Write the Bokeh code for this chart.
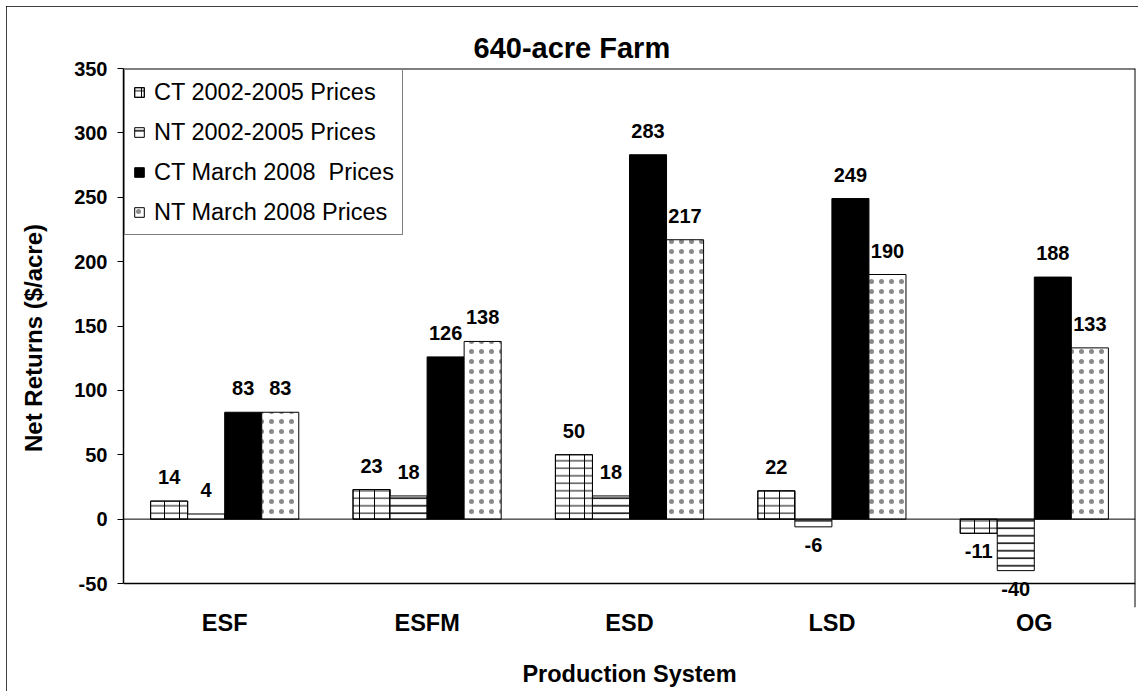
from bokeh.plotting import figure
from bokeh.models import (ColumnDataSource, FactorRange, Range1d, Span, Legend,
                          LegendItem, FixedTicker, LabelSet, PrintfTickFormatter)
from bokeh.transform import dodge
from bokeh.core.properties import value
from bokeh.embed import file_html
from bokeh.resources import INLINE

# ---------------- data ----------------
categories = ["ESF", "ESFM", "ESD", "LSD", "OG"]
ct_2002 = [14, 23, 50, 22, -11]
nt_2002 = [4, 18, 18, -6, -40]
ct_2008 = [83, 126, 283, 249, 188]
nt_2008 = [83, 138, 217, 190, 133]
series_names = ["CT 2002-2005 Prices", "NT 2002-2005 Prices",
                "CT March 2008  Prices", "NT March 2008 Prices"]
y_ticks = [-50, 0, 50, 100, 150, 200, 250, 300, 350]
title_text = "640-acre Farm"
x_title = "Production System"
y_title = "Net Returns ($/acre)"

FONT = "Liberation Sans"
BAR_W = 0.183
Y_MIN, Y_MAX = y_ticks[0], y_ticks[-1]
# extra room below the axis minimum so labels under the lowest bar are not clipped
PX_PER_UNIT = 515 / (Y_MAX - Y_MIN)
Y_START = Y_MIN - 24 / PX_PER_UNIT

p = figure(x_range=FactorRange(factors=categories, range_padding=0),
           y_range=Range1d(Y_START, Y_MAX),
           width=1132, height=685,
           output_backend="svg", toolbar_location=None,
           min_border_left=117, min_border_right=3,
           min_border_top=62, min_border_bottom=84,
           background_fill_color="white", border_fill_color="white",
           outline_line_color=None)
p.styles = {"margin-left": "6px", "margin-top": "6px",
            "outline": "2px solid #000", "outline-offset": "-2px"}

# title
p.title.text = title_text
p.title.align = "left"
p.title.offset = 350
p.title.standoff = 9
p.title.text_font = FONT
p.title.text_font_size = "29px"
p.title.text_font_style = "bold"
p.title.text_color = "black"

p.xgrid.grid_line_color = None
p.ygrid.grid_line_color = None

# axes
p.yaxis.ticker = FixedTicker(ticks=y_ticks)
p.yaxis.bounds = (Y_MIN, Y_MAX)
p.yaxis.formatter = PrintfTickFormatter(format="%d")
p.yaxis.major_tick_out = 6
p.yaxis.major_tick_in = 0
p.yaxis.minor_tick_line_color = None
p.yaxis.major_label_standoff = 10
p.yaxis.major_label_text_font = FONT
p.yaxis.major_label_text_font_size = "20px"
p.yaxis.major_label_text_font_style = "bold"
p.yaxis.major_label_text_color = "black"
p.yaxis.axis_line_color = "black"
p.yaxis.axis_line_width = 1.5
p.yaxis.major_tick_line_color = "black"
p.yaxis.axis_label = y_title
p.yaxis.axis_label_text_font = FONT
p.yaxis.axis_label_text_font_size = "24px"
p.yaxis.axis_label_text_font_style = "bold"
p.yaxis.axis_label_text_color = "black"
p.yaxis.axis_label_standoff = 24

p.xaxis.major_tick_line_color = None
p.xaxis.minor_tick_line_color = None
p.xaxis.major_tick_out = 0
p.xaxis.axis_line_color = None
p.xaxis.major_label_standoff = 2
p.xaxis.major_label_text_font = FONT
p.xaxis.major_label_text_font_size = "23.5px"
p.xaxis.major_label_text_font_style = "bold"
p.xaxis.major_label_text_color = "black"
p.xaxis.axis_label = x_title
p.xaxis.axis_label_text_font = FONT
p.xaxis.axis_label_text_font_size = "23.5px"
p.xaxis.axis_label_text_font_style = "bold"
p.xaxis.axis_label_text_color = "black"
p.xaxis.axis_label_standoff = 22

# plot-area border: top, bottom (at axis minimum) and right edge
p.add_layout(Span(location=Y_MAX, dimension="width", line_color="black", line_width=2))
p.add_layout(Span(location=Y_MIN, dimension="width", line_color="black", line_width=1.5))
p.add_layout(Span(location=len(categories), dimension="height", line_color="black",
                  line_width=2))

src = ColumnDataSource(dict(cat=categories, ct_2002=ct_2002, nt_2002=nt_2002,
                            ct_2008=ct_2008, nt_2008=nt_2008))
series = [("ct_2002", ct_2002), ("nt_2002", nt_2002),
          ("ct_2008", ct_2008), ("nt_2008", nt_2008)]
# each series: list of layered bar styles (brick = horizontal + sparse vertical lines)
styles = [
    [dict(fill_color="white", hatch_pattern="horizontal_line", hatch_scale=7.5,
          hatch_weight=1, hatch_color="black"),
     dict(fill_alpha=0, hatch_pattern="vertical_line", hatch_scale=15,
          hatch_weight=1, hatch_color="black")],
    [dict(fill_color="white", hatch_pattern="horizontal_line", hatch_scale=7.5,
          hatch_weight=1.5, hatch_color="black")],
    [dict(fill_color="black")],
    [dict(fill_color="white", hatch_pattern="dot", hatch_scale=10,
          hatch_weight=1, hatch_color="#8a8a8a")],
]
offsets = [-1.5 * BAR_W, -0.5 * BAR_W, 0.5 * BAR_W, 1.5 * BAR_W]

items = []
for (key, vals), layers, off, name in zip(series, styles, offsets, series_names):
    rs = []
    for st in layers:
        r = p.vbar(x=dodge("cat", off, range=p.x_range), top=key, bottom=0,
                   width=BAR_W, source=src, line_color="black", line_width=1, **st)
        rs.append(r)
    items.append(LegendItem(label=name, renderers=rs))
    pos = [(c, v) for c, v in zip(categories, vals) if v >= 0]
    neg = [(c, v) for c, v in zip(categories, vals) if v < 0]
    for subset, base, yoff in ((pos, "alphabetic", 17), (neg, "top", -11)):
        if not subset:
            continue
        ls = ColumnDataSource(dict(cat=[c for c, _ in subset], val=[v for _, v in subset],
                                   txt=[str(v) for _, v in subset]))
        p.add_layout(LabelSet(x=dodge("cat", off, range=p.x_range), y="val", text="txt",
                              source=ls, y_offset=yoff, text_align="center",
                              text_baseline=base, text_font=value(FONT),
                              text_font_style="bold", text_font_size=value("20px"),
                              text_color="black"))

p.add_layout(Span(location=0, dimension="width", line_color="black", line_width=1))

legend = Legend(items=items, location="top_left",
                border_line_color="black", border_line_width=1,
                background_fill_color="white", background_fill_alpha=1,
                label_text_font=FONT, label_text_font_size="23.5px",
                label_text_color="black",
                glyph_width=12, glyph_height=12, label_height=28,
                spacing=12, padding=8, margin=1, label_standoff=9)
p.add_layout(legend)

open("out.html", "w").write(file_html(p, INLINE))
